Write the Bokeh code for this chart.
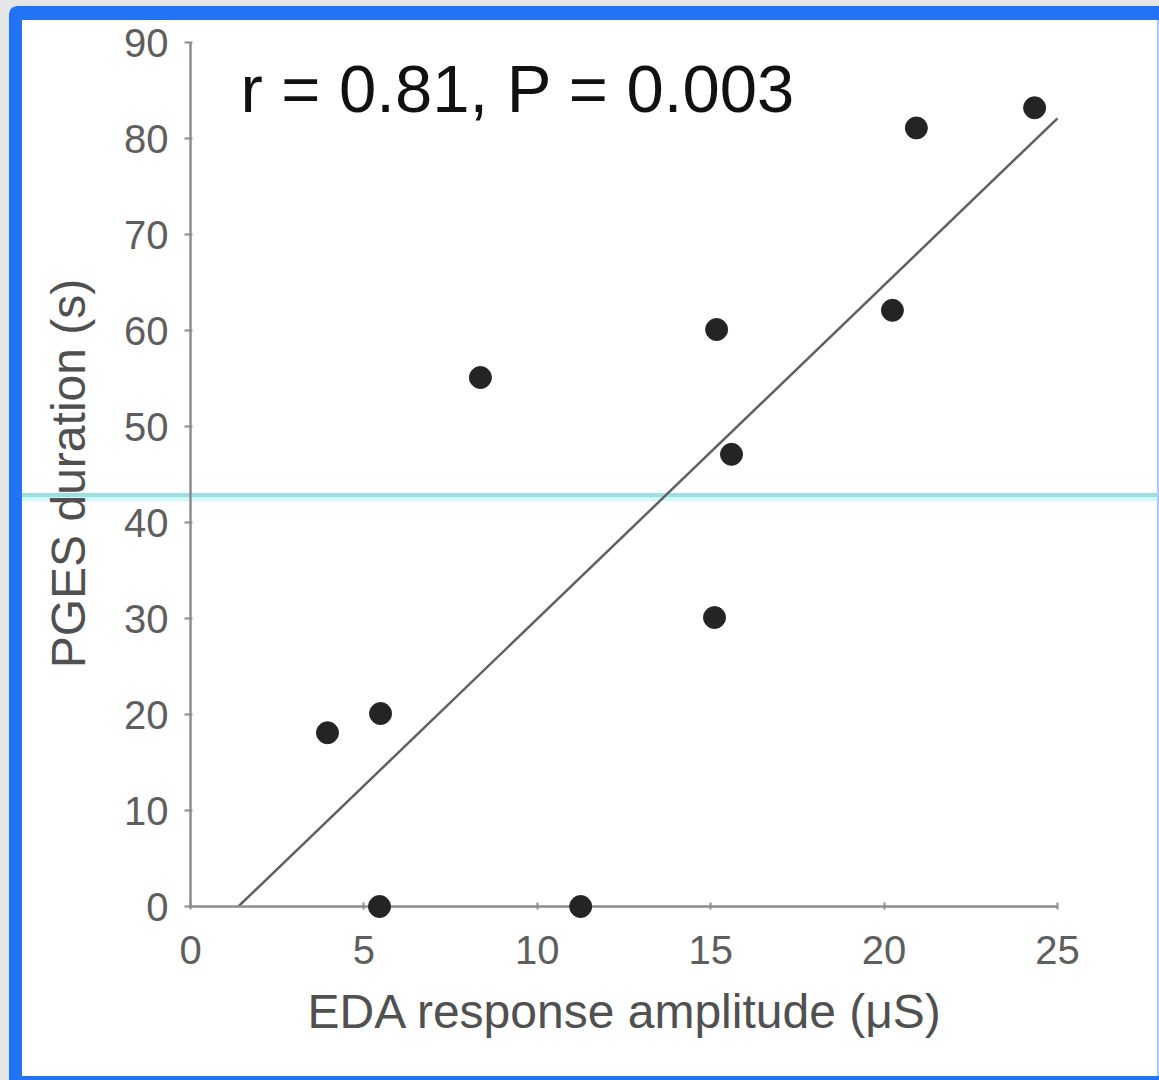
from bokeh.plotting import figure
from bokeh.models import Range1d, FixedTicker
from bokeh.embed import file_html
from bokeh.resources import INLINE

# ---- data ----
eda_amplitude = [3.95, 5.48, 5.45, 8.36, 11.25, 15.17, 15.6, 15.11, 20.24, 20.93, 24.34]
pges_duration = [18.1, 20.1, 0.0, 55.1, 0.0, 60.1, 47.1, 30.1, 62.1, 81.1, 83.2]
fit_x = [1.38, 25.0]
fit_y = [0.0, 82.1]
x_ticks = [0, 5, 10, 15, 20, 25]
y_ticks = [0, 10, 20, 30, 40, 50, 60, 70, 80, 90]
stat_text = "r = 0.81, P = 0.003"
x_label = "EDA response amplitude (\u03bcS)"
y_label = "PGES duration (s)"

W, H = 1159, 1080
FL, FR, FT, FB = 190, 1060, 40, 906   # frame edges in canvas px
PX_PER_X = 34.68
PX_PER_Y = 9.6

x_end = (FR - FL) / PX_PER_X
y_end = (FB - FT) / PX_PER_Y

p = figure(width=W, height=H, output_backend="svg", toolbar_location=None,
           x_range=Range1d(0, x_end), y_range=Range1d(0, y_end),
           min_border_left=FL, min_border_right=W - FR,
           min_border_top=FT, min_border_bottom=H - FB)
p.background_fill_alpha = 0
p.border_fill_alpha = 0
p.outline_line_color = None
p.grid.visible = False

FONT = "Liberation Sans"
AX = "#8c8c8c"
TICK_COL = "#5e5e5e"
LAB_COL = "#505050"

ya = p.yaxis[0]
ya.ticker = FixedTicker(ticks=y_ticks)
ya.bounds = (y_ticks[0], y_ticks[-1])
ya.major_tick_in = 2
ya.major_tick_out = 6
ya.major_label_standoff = 16
ya.axis_label = y_label
ya.axis_label_standoff = 26

xa = p.xaxis[0]
xa.ticker = FixedTicker(ticks=x_ticks)
xa.bounds = (x_ticks[0], x_ticks[-1])
xa.major_tick_in = 4
xa.major_tick_out = 3
xa.major_label_standoff = 26
xa.axis_label = x_label
xa.axis_label_standoff = 18

for ax in (xa, ya):
    ax.axis_line_color = AX
    ax.axis_line_width = 2.5
    ax.major_tick_line_color = AX
    ax.major_tick_line_width = 2
    ax.minor_tick_line_color = None
    ax.major_label_text_font = FONT
    ax.major_label_text_font_size = "40px"
    ax.major_label_text_color = TICK_COL
    ax.axis_label_text_font = FONT
    ax.axis_label_text_font_size = "48px"
    ax.axis_label_text_font_style = "normal"
    ax.axis_label_text_color = LAB_COL

p.line(fit_x, fit_y, line_color="#606060", line_width=2.5)
p.scatter(eda_amplitude, pges_duration, size=22, fill_color="#242424",
          line_color="#242424", line_width=1, level="overlay")

p.text(x=[1.44], y=[85.2], text=[stat_text], text_font={"value": FONT},
       text_font_size="67px", text_color="#111111",
       text_baseline="alphabetic", text_align="left")

# screenshot decorations around the chart (page background, not data):
# grey margin, blue selection frame, cyan guide line
def layer(color, x, y, w, h):
    return f"linear-gradient({color},{color}) {x}px {y}px / {w}px {h}px no-repeat"

BLUE = "#2373f5"
GREY = "#e6e6e6"
layers = [
    f"radial-gradient(circle at 7px 7px, rgba(0,0,0,0) 6px, {GREY} 7px) 9px 6px / 7px 7px no-repeat",
    layer("#9edede", 22, 493, 1135, 4),
    layer("#ccfcfc", 22, 497, 1135, 4),
    layer(GREY, 0, 0, 9, H),
    layer(GREY, 0, 0, W, 6),
    layer(BLUE, 9, 6, 13, H - 6),
    layer(BLUE, 9, 6, W - 9, 14),
    layer(BLUE, 9, 1076, W - 9, 4),
    layer("#a8c6ff", 1157, 6, 2, H - 6),
]
p.styles = {"background": ", ".join(layers) + ", #ffffff"}

open("out.html", "w").write(file_html(p, INLINE))
